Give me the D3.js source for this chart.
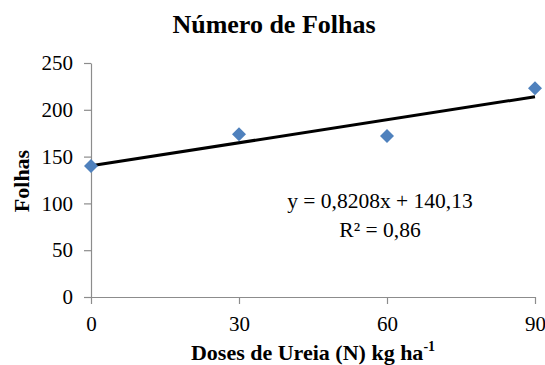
<!DOCTYPE html>
<html>
<head>
<meta charset="utf-8">
<script src="https://cdn.jsdelivr.net/npm/d3@7"></script>
<style>
  html, body { margin: 0; padding: 0; background: #fff; }
  text { font-family: "Liberation Serif", "Times New Roman", serif; }
</style>
</head>
<body>
<div id="grafico"></div>
<script>
// Dados
const doses = [0, 30, 60, 90];
const folhas = [140, 174, 172, 223];
const yTicks = [0, 50, 100, 150, 200, 250];
const equacao = ["y = 0,8208x + 140,13", "R² = 0,86"];
const coef = { a: 0.8208, b: 140.13 };

const width = 545;
const height = 365;

const svg = d3.select('#grafico')
    .append('svg')
    .attr('width', width)
    .attr('height', height);

const x = d3.scaleLinear().domain([0, 90]).range([91, 535]);
const y = d3.scaleLinear().domain([0, 250]).range([297, 63]);

// Título
svg.append('text')
    .attr('x', 274)
    .attr('y', 33)
    .attr('text-anchor', 'middle')
    .attr('font-size', 26)
    .attr('font-weight', 'bold')
    .text('Número de Folhas');

// Eixo Y
const eixoY = svg.append('g')
    .attr('transform', `translate(${x(0)},0)`)
    .call(d3.axisLeft(y).tickValues(yTicks).tickSize(7).tickSizeOuter(0).tickPadding(11));

// Eixo X
const eixoX = svg.append('g')
    .attr('transform', `translate(0,${y(0)})`)
    .call(d3.axisBottom(x).tickValues(doses).tickSize(7).tickSizeOuter(0).tickPadding(12));

[eixoY, eixoX].forEach(g => {
    g.select('.domain').attr('stroke', '#8c8c8c').attr('stroke-width', 1.2);
    g.selectAll('.tick line').attr('stroke', '#8c8c8c').attr('stroke-width', 1.2);
    g.selectAll('.tick text')
        .attr('font-family', '"Liberation Serif", serif')
        .attr('font-size', 21)
        .attr('fill', '#000');
});

// Linha de tendência
svg.append('line')
    .attr('x1', x(0))
    .attr('y1', y(coef.b))
    .attr('x2', x(90))
    .attr('y2', y(coef.a * 90 + coef.b))
    .attr('stroke', '#000')
    .attr('stroke-width', 3);

// Pontos (losangos)
svg.selectAll('.ponto')
    .data(doses)
    .enter()
    .append('path')
    .attr('class', 'ponto')
    .attr('d', d3.symbol().type(d3.symbolDiamond2).size(125))
    .attr('transform', (d, i) => `translate(${x(d)},${y(folhas[i])})`)
    .attr('fill', '#4f81bd');

// Equação
svg.selectAll('.eq')
    .data(equacao)
    .enter()
    .append('text')
    .attr('class', 'eq')
    .attr('x', 380)
    .attr('y', (d, i) => 208 + i * 29)
    .attr('text-anchor', 'middle')
    .attr('font-size', 21.5)
    .text(d => d);

// Título eixo X
const tx = svg.append('text')
    .attr('x', 313)
    .attr('y', 360)
    .attr('text-anchor', 'middle')
    .attr('font-size', 22)
    .attr('font-weight', 'bold')
    .text('Doses de Ureia (N) kg ha');
tx.append('tspan')
    .attr('dy', -9)
    .attr('font-size', 14)
    .text('-1');

// Título eixo Y
svg.append('text')
    .attr('transform', 'translate(29,181) rotate(-90)')
    .attr('text-anchor', 'middle')
    .attr('font-size', 22)
    .attr('font-weight', 'bold')
    .text('Folhas');
</script>
</body>
</html>
